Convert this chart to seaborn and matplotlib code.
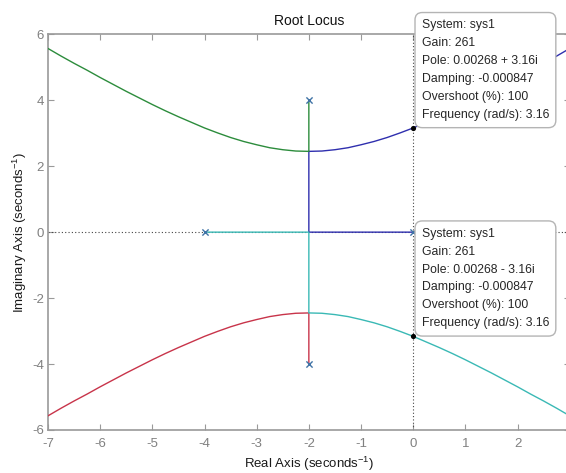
import matplotlib
matplotlib.use("Agg")
import matplotlib.pyplot as plt
import numpy as np
import pandas as pd
import seaborn as sns

# ---------------- data ----------------
# upper-left asymptotic branch (green), lower-left (red)
ul_x = [-7.0, -6.75, -6.5, -6.25, -6.0, -5.75, -5.5, -5.25, -5.0, -4.75, -4.5, -4.25,
        -4.0, -3.75, -3.5, -3.25, -3.0, -2.75, -2.5, -2.25, -2.0]
ul_y = [5.57, 5.34, 5.12, 4.91, 4.69, 4.48, 4.27, 4.07, 3.87, 3.68, 3.50, 3.33,
        3.16, 3.01, 2.87, 2.75, 2.65, 2.56, 2.50, 2.46, 2.45]
ll_x = [-7.0, -6.75, -6.5, -6.25, -6.0, -5.75, -5.5, -5.25, -5.0, -4.75, -4.5, -4.25,
        -4.0, -3.75, -3.5, -3.25, -3.0, -2.75, -2.5, -2.25, -2.0]
ll_y = [-5.57, -5.34, -5.12, -4.91, -4.69, -4.48, -4.27, -4.07, -3.87, -3.68, -3.50, -3.33,
        -3.16, -3.01, -2.87, -2.75, -2.65, -2.56, -2.50, -2.46, -2.45]
# upper-right branch (blue), lower-right (cyan)
ur_x = [-2.0, -1.75, -1.5, -1.25, -1.0, -0.75, -0.5, -0.25, 0.0, 0.25, 0.5, 0.75,
        1.0, 1.25, 1.5, 1.75, 2.0, 2.25, 2.5, 2.75, 3.0]
ur_y = [2.45, 2.46, 2.50, 2.56, 2.65, 2.75, 2.87, 3.01, 3.16, 3.33, 3.50, 3.68,
        3.87, 4.07, 4.27, 4.48, 4.69, 4.91, 5.12, 5.34, 5.57]
lr_x = [-2.0, -1.75, -1.5, -1.25, -1.0, -0.75, -0.5, -0.25, 0.0, 0.25, 0.5, 0.75,
        1.0, 1.25, 1.5, 1.75, 2.0, 2.25, 2.5, 2.75, 3.0]
lr_y = [-2.45, -2.46, -2.50, -2.56, -2.65, -2.75, -2.87, -3.01, -3.16, -3.33, -3.50, -3.68,
        -3.87, -4.07, -4.27, -4.48, -4.69, -4.91, -5.12, -5.34, -5.57]

# open-loop poles
pole_re = [0.0, -4.0, -2.0, -2.0]
pole_im = [0.0, 0.0, 4.0, -4.0]

# data tips
tip_re = [0.00268, 0.00268]
tip_im = [3.16, -3.16]
tip_pole_txt = ["0.00268 + 3.16i", "0.00268 - 3.16i"]
tip_gain = ["261", "261"]
tip_damping = ["-0.000847", "-0.000847"]
tip_overshoot = ["100", "100"]
tip_freq = ["3.16", "3.16"]

branch_names = ["blue", "green", "red", "cyan"]
branch_colors = {"blue": "#2f2fae", "green": "#2c8c3c", "red": "#c8344a", "cyan": "#3ab9b5"}

x_ticks = [-7, -6, -5, -4, -3, -2, -1, 0, 1, 2]
y_ticks = [-6, -4, -2, 0, 2, 4, 6]

# ---------------- build branches ----------------
branches = {
    "blue": ([pole_re[0], -2.0] + ur_x, [pole_im[0], 0.0] + ur_y),
    "green": ([pole_re[2]] + ul_x[::-1], [pole_im[2]] + ul_y[::-1]),
    "red": ([pole_re[3]] + ll_x[::-1], [pole_im[3]] + ll_y[::-1]),
    "cyan": ([pole_re[1], -2.0] + lr_x, [pole_im[1], 0.0] + lr_y),
}
rows = []
for name in branch_names:
    xs, ys = branches[name]
    for i, (a, b) in enumerate(zip(xs, ys)):
        rows.append({"branch": name, "order": i, "re": a, "im": b})
df = pd.DataFrame(rows)
poles_df = pd.DataFrame({"re": pole_re, "im": pole_im})
tips_df = pd.DataFrame({"re": tip_re, "im": tip_im})

# ---------------- style ----------------
sns.set_style("white")
plt.rcParams["font.family"] = ["Liberation Sans", "DejaVu Sans"]
plt.rcParams["mathtext.fontset"] = "custom"
plt.rcParams["mathtext.rm"] = "Liberation Sans"
plt.rcParams["mathtext.it"] = "Liberation Sans:italic"
plt.rcParams["mathtext.bf"] = "Liberation Sans:bold"
plt.rcParams["axes.unicode_minus"] = False

W, H = 566, 473
fig = plt.figure(figsize=(W / 100, H / 100), dpi=100, facecolor="white")
ax = fig.add_axes([48 / W, 1 - 430 / H, (569.7 - 48) / W, (430 - 34.3) / H])

# reference lines
ax.axhline(0, color="#444444", lw=0.8, ls=(0, (1, 2)), zorder=1)
ax.axvline(0, color="#444444", lw=0.8, ls=(0, (1, 2)), zorder=1)

sns.lineplot(data=df, x="re", y="im", hue="branch", hue_order=branch_names,
             palette=branch_colors, sort=False, estimator=None, units="branch",
             legend=False, linewidth=1.0, ax=ax, zorder=3)

sns.scatterplot(data=poles_df, x="re", y="im", marker="x", color="#3f73a6",
                s=20, linewidth=1.0, ax=ax, zorder=5, legend=False)
sns.scatterplot(data=tips_df, x="re", y="im", color="black", s=14,
                edgecolor="black", linewidth=0, ax=ax, zorder=6, legend=False)

for i in range(len(tip_re)):
    txt = ("System: sys1\n"
           f"Gain: {tip_gain[i]}\n"
           f"Pole: {tip_pole_txt[i]}\n"
           f"Damping: {tip_damping[i]}\n"
           f"Overshoot (%): {tip_overshoot[i]}\n"
           f"Frequency (rad/s): {tip_freq[i]}")
    ax.annotate(txt, xy=(tip_re[i], tip_im[i]), xytext=(8.4, 7.0),
                textcoords="offset pixels", ha="left", va="bottom",
                fontsize=8.8, linespacing=1.66, color="#262626", zorder=10,
                annotation_clip=False,
                bbox=dict(boxstyle="round,pad=0.55,rounding_size=0.6",
                          fc="white", ec="#b4b4b4", lw=1.0))

ax.set_xlim(-7, 3)
ax.set_ylim(-6, 6)
ax.set_xticks(x_ticks)
ax.set_yticks(y_ticks)
ax.set_xticklabels([str(t) for t in x_ticks])
ax.set_yticklabels([str(t) for t in y_ticks])

for sp in ax.spines.values():
    sp.set_color("#9a9a9a")
    sp.set_linewidth(1.2)
ax.tick_params(axis="both", which="both", direction="in", length=4.5, width=0.8,
               color="#9a9a9a", labelcolor="#808080", labelsize=9.5,
               top=True, right=True, bottom=True, left=True)
ax.tick_params(axis="x", pad=5.5)
ax.tick_params(axis="y", pad=3)

ax.set_title("Root Locus", fontsize=10, color="#111111", pad=7)
ax.set_xlabel("Real Axis (seconds$^{-1}$)", fontsize=9.5, color="#1a1a1a", labelpad=4)
ax.set_ylabel("Imaginary Axis (seconds$^{-1}$)", fontsize=9.5, color="#1a1a1a", labelpad=2)

fig.savefig("out.png", dpi=100, facecolor="white")
